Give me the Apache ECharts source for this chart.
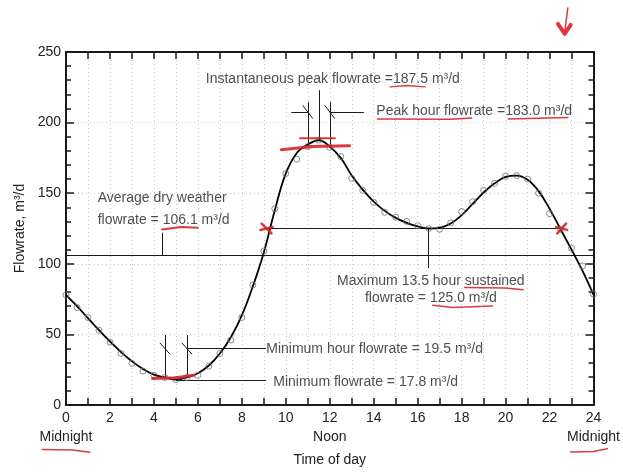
<!DOCTYPE html>
<html><head><meta charset="utf-8">
<script src="https://cdn.jsdelivr.net/npm/echarts@6/dist/echarts.min.js"></script>
<style>html,body{margin:0;padding:0;background:#fff}#c{width:623px;height:472px}</style>
</head><body><div id="c"></div>
<script>
// ---- data ----
const hours = [0,0.5,1,1.5,2,2.5,3,3.5,4,4.5,5,5.5,6,6.5,7,7.5,8,8.5,9,9.5,10,10.5,11,11.5,12,
  12.5,13,13.5,14,14.5,15,15.5,16,16.5,17,17.5,18,18.5,19,19.5,20,20.5,21,21.5,22,22.5,23,23.5,24];
// measured flowrates (open circles)
const flowrate = [78,69,62,53,44.5,36.5,29.5,24,21,19.5,18,19.5,21,27.5,36.5,46,62,85,109,139,164,174,183,187.5,182.5,
  176,160.5,152,143.5,136.5,133,130,127,125,124.5,129,137,144,152,157,162,162.5,160,150,135.5,124.5,111,98.5,78.5];
// fitted curve (solid line), read at the same hours
const fittedCurve = [78,70,61.5,53,45,37.5,31,25.5,21.5,19.5,18,19.5,22.5,28,36.5,48,63.5,84,108,138,164,178.5,184.5,187.5,183,
  175,162.5,152.5,144,137.5,132.5,129,126.5,125,125.5,128.5,134.5,142.5,150.5,157,161.5,162.5,159.5,151.5,139,124.5,110,95,78];
const specialLabels = {0:'Midnight', 12:'Noon', 24:'Midnight'};

// annotation values
const avgFlow = 106.1, sustainedFlow = 125.0, peakInstFlow = 187.5, peakHourFlow = 183.0, minHourFlow = 19.5, minFlow = 17.8;
const peakInstHour = 11.5, peakHourWin = [11, 12], minHourWin = [4.5, 5.5], minHourAt = 5, sustainedWin = [9.05, 22.55];

// ---- annotation geometry (hours, flow units) ----
const BLACK = '#1a1a1a', RED = '#d8232a';
const blackSegs = [
  [[0, avgFlow], [24, avgFlow]],
  [[4.4, avgFlow], [4.4, 122]],
  [[sustainedWin[0], sustainedFlow], [sustainedWin[1], sustainedFlow]],
  [[16.5, sustainedFlow], [16.5, 97]],
  [[peakInstHour, peakInstFlow], [peakInstHour, 223]],
  [[peakHourWin[0], peakHourFlow], [peakHourWin[0], 214.5]],
  [[peakHourWin[1], peakHourFlow], [peakHourWin[1], 214.5]],
  [[10.25, 207.5], [peakHourWin[0], 207.5]],
  [[peakHourWin[1], 207.5], [13.55, 207.5]],
  [[peakHourWin[0]-0.23, 212.2], [peakHourWin[0]+0.23, 202.8]],
  [[peakHourWin[1]-0.23, 212.2], [peakHourWin[1]+0.23, 202.8]],
  [[minHourWin[0], minHourFlow], [minHourWin[0], 49.5]],
  [[minHourWin[1], minHourFlow], [minHourWin[1], 49.5]],
  [[minHourWin[1], 40], [9.1, 40]],
  [[minHourWin[0]-0.23, 44], [minHourWin[0]+0.23, 36]],
  [[minHourWin[1]-0.23, 44], [minHourWin[1]+0.23, 36]],
  [[minHourAt, minFlow-0.6], [9.1, minFlow-0.6]]
];
const redSegs = [
  {c: [[14.75, 225.3], [15.5, 226.2], [16.33, 225.3]], w: 1.5},
  {c: [[14.17, 202.6], [17.5, 202.3], [18.45, 203.2]], w: 1.5},
  {c: [[20.12, 202.6], [21.5, 203.0], [22.83, 203.6]], w: 1.5},
  {c: [[4.38, 124.3], [5.2, 126.0], [6.0, 125.5]], w: 2},
  {c: [[18.13, 83.3], [20.0, 82.9], [20.8, 81.6]], w: 1.5},
  {c: [[16.69, 70.6], [17.6, 69.0], [19.4, 70.1]], w: 1.5},
  {c: [[-1.08, -31.5], [0.3, -31.8], [1.08, -33.5]], w: 1.5},
  {c: [[22.96, -33.3], [24.0, -33.0], [24.63, -31.0]], w: 1.5},
  {c: [[22.83, 281.2], [22.69, 264.3]], w: 1.5},
  {c: [[22.38, 269.9], [22.69, 262.9], [22.96, 269.2]], w: 4},
  {c: [[10.65, 188.9], [12.23, 188.9]], w: 2},
  {c: [[9.8, 180.7], [11.2, 183.0], [12.9, 183.6]], w: 3},
  {c: [[3.94, 18.7], [5.0, 19.3], [5.82, 21.1]], w: 3},
  {c: [[8.9, 128.5], [9.35, 121.5]], w: 2.5},
  {c: [[8.85, 124.0], [9.4, 126.0]], w: 2.5},
  {c: [[22.35, 121.5], [22.75, 128.5]], w: 2.5},
  {c: [[22.3, 126.0], [22.8, 124.0]], w: 2.5}
];
const textNotes = [
  {p: [6.36, 230.5], t: 'Instantaneous peak flowrate =' + peakInstFlow.toFixed(1) + ' m³/d', pos: 'right'},
  {p: [14.12, 207.8], t: 'Peak hour flowrate =' + peakHourFlow.toFixed(1) + ' m³/d', pos: 'right'},
  {p: [1.44, 146.5], t: 'Average dry weather', pos: 'right'},
  {p: [1.44, 131.2], t: 'flowrate = ' + avgFlow.toFixed(1) + ' m³/d', pos: 'right'},
  {p: [16.6, 87.7], t: 'Maximum 13.5 hour sustained', pos: 'inside'},
  {p: [16.6, 75.6], t: 'flowrate = ' + sustainedFlow.toFixed(1) + ' m³/d', pos: 'inside'},
  {p: [9.11, 39.6], t: 'Minimum hour flowrate = ' + minHourFlow.toFixed(1) + ' m³/d', pos: 'right'},
  {p: [9.43, 16.0], t: 'Minimum flowrate = ' + minFlow.toFixed(1) + ' m³/d', pos: 'right'}
];

const FONT = '"Liberation Sans", Arial, Helvetica, sans-serif';
const chart = echarts.init(document.getElementById('c'), null, {renderer: 'canvas'});

const xBase = {
  type: 'value', min: 0, max: 24, interval: 2,
  axisLine: {show: true, onZero: false, lineStyle: {color: BLACK, width: 2}},
  axisTick: {show: true, inside: true, length: 7, lineStyle: {color: BLACK, width: 1.5}},
  minorTick: {show: true, splitNumber: 2, length: 7, lineStyle: {color: BLACK, width: 1.5}},
  splitLine: {show: true, lineStyle: {color: '#c8c8c8', type: [1, 3], width: 1}},
  minorSplitLine: {show: true, lineStyle: {color: '#c8c8c8', type: [1, 3], width: 1}}
};
const yBase = {
  type: 'value', min: 0, max: 250, interval: 50,
  axisLine: {show: true, onZero: false, lineStyle: {color: BLACK, width: 2}},
  axisTick: {show: true, inside: true, length: 8, lineStyle: {color: BLACK, width: 1.5}},
  minorTick: {show: true, splitNumber: 5, length: 5, lineStyle: {color: BLACK, width: 1.5}},
  splitLine: {show: true, lineStyle: {color: '#c8c8c8', type: [1, 3], width: 1}}
};

chart.setOption({
  animation: false,
  backgroundColor: '#fff',
  textStyle: {fontFamily: FONT},
  grid: {left: 66, right: 25, top: 52, bottom: 65, containLabel: false},
  xAxis: [
    Object.assign({}, xBase, {
      position: 'bottom',
      name: 'Time of day', nameLocation: 'middle', nameGap: 48,
      nameTextStyle: {fontSize: 14, color: '#222', fontFamily: FONT},
      axisLabel: {show: true, margin: 4, fontSize: 14, color: '#222', lineHeight: 19, fontFamily: FONT,
        showMinLabel: true, showMaxLabel: true,
        formatter: v => specialLabels[v] ? v + '\n' + specialLabels[v] : String(v)}
    }),
    Object.assign({}, xBase, {position: 'top', axisLabel: {show: false}, splitLine: {show: false}, minorSplitLine: {show: false}})
  ],
  yAxis: [
    Object.assign({}, yBase, {
      position: 'left',
      name: 'Flowrate, m³/d', nameLocation: 'middle', nameGap: 39,
      nameTextStyle: {fontSize: 14, color: '#222', fontFamily: FONT},
      axisLabel: {show: true, margin: 5, fontSize: 14, color: '#222', fontFamily: FONT}
    }),
    Object.assign({}, yBase, {position: 'right', axisLabel: {show: false}, splitLine: {show: false}})
  ],
  series: [
    {
      type: 'lines', coordinateSystem: 'cartesian2d', xAxisIndex: 0, yAxisIndex: 0, clip: false, silent: true, z: 3,
      lineStyle: {color: BLACK, width: 1, opacity: 1},
      data: blackSegs.map(s => ({coords: s}))
    },
    {
      type: 'line', xAxisIndex: 0, yAxisIndex: 0, smooth: 0.4, showSymbol: false, silent: true, z: 4,
      lineStyle: {color: '#000', width: 1.8},
      data: hours.map((h, i) => [h, fittedCurve[i]])
    },
    {
      type: 'scatter', xAxisIndex: 0, yAxisIndex: 0, symbol: 'circle', symbolSize: 6, silent: true, z: 5,
      itemStyle: {color: 'rgba(255,255,255,0)', borderColor: '#707070', borderWidth: 1},
      data: hours.map((h, i) => [h, flowrate[i]])
    },
    {
      type: 'lines', coordinateSystem: 'cartesian2d', xAxisIndex: 0, yAxisIndex: 0, clip: false, silent: true, polyline: true, z: 6,
      data: redSegs.map(s => ({coords: s.c, lineStyle: {color: RED, width: s.w, opacity: 0.9, cap: 'round', join: 'round'}}))
    },
    {
      type: 'scatter', xAxisIndex: 0, yAxisIndex: 0, symbolSize: 0, silent: true, z: 7,
      data: textNotes.map(n => ({
        value: n.p,
        label: {show: true, position: n.pos, distance: 0, formatter: n.t,
          fontSize: 14, color: '#222', fontFamily: FONT}
      }))
    }
  ]
});
</script>
</body></html>
